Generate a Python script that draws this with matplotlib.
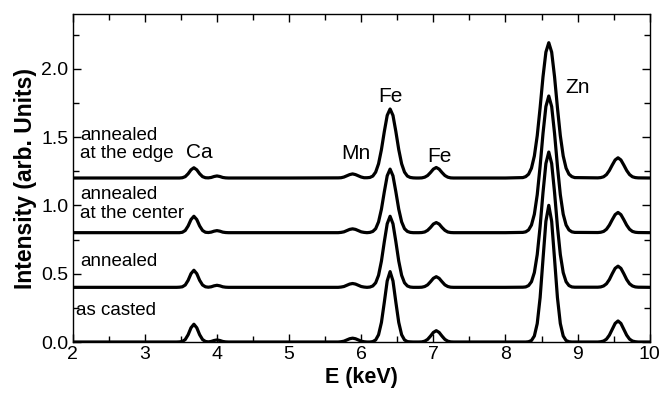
import matplotlib
matplotlib.use("Agg")
import matplotlib.pyplot as plt
import matplotlib.transforms as mtransforms
from matplotlib.ticker import MultipleLocator

plt.rcParams['font.family'] = ['Liberation Sans', 'DejaVu Sans']

# energy grid (keV), denser around the lines
energy = [2.0, 3.0,
          3.44, 3.48, 3.52, 3.56, 3.60, 3.64, 3.68, 3.72, 3.76, 3.80,
          3.84, 3.88, 3.92, 3.96, 4.00, 4.04, 4.08, 4.12, 4.16,
          5.0,
          5.68, 5.72, 5.76, 5.80, 5.84, 5.88, 5.92, 5.96, 6.00, 6.04,
          6.08, 6.12, 6.16, 6.20, 6.24, 6.28, 6.32, 6.36, 6.40, 6.44,
          6.48, 6.52, 6.56, 6.60, 6.64, 6.68, 6.72, 6.76, 6.80, 6.84,
          6.88, 6.92, 6.96, 7.00, 7.04, 7.08, 7.12, 7.16, 7.20, 7.24, 7.28,
          8.0,
          8.24, 8.28, 8.32, 8.36, 8.40, 8.44, 8.48, 8.52, 8.56, 8.60,
          8.64, 8.68, 8.72, 8.76, 8.80, 8.84, 8.88, 8.92, 8.96,
          9.28, 9.32, 9.36, 9.40, 9.44, 9.48, 9.52, 9.56, 9.60, 9.64,
          9.68, 9.72, 9.76, 9.80, 9.84,
          10.0]

# intensity above each spectrum's own baseline
edge = [0, 0,
        0, 0, .002, .010, .031, .060, .075, .060, .031, .010,
        .002, .001, .004, .011, .015, .011, .004, .001, 0,
        0,
        .001, .002, .007, .016, .025, .030, .025, .016, .007, .002,
        .002, .004, .014, .043, .104, .208, .340, .458, .505, .458,
        .340, .208, .104, .043, .014, .004, .001, 0, 0, .001,
        .006, .018, .040, .065, .077, .065, .040, .018, .006, .001, 0,
        0,
        .003, .010, .028, .072, .161, .310, .515, .741, .921, .990,
        .921, .741, .515, .310, .161, .072, .028, .010, .003,
        .001, .003, .009, .025, .055, .095, .132, .148, .132, .095,
        .055, .025, .009, .003, .001,
        0]

center = [0, 0,
          0, 0, .003, .016, .049, .096, .120, .096, .049, .016,
          .003, .001, .004, .011, .015, .011, .004, .001, 0,
          0,
          0, .002, .006, .015, .024, .028, .024, .015, .006, .002,
          0, .002, .009, .029, .079, .172, .299, .416, .465, .416,
          .299, .172, .079, .029, .009, .002, 0, 0, 0, .001,
          .005, .017, .038, .063, .074, .063, .038, .017, .005, .001, 0,
          0,
          .002, .006, .020, .056, .135, .278, .487, .726, .923, 1.000,
          .923, .726, .487, .278, .135, .056, .020, .006, .002,
          .001, .003, .009, .025, .055, .095, .132, .148, .132, .095,
          .055, .025, .009, .003, .001,
          0]

annealed = [0, 0,
            0, .001, .004, .017, .051, .100, .125, .100, .051, .017,
            .004, .001, .004, .011, .015, .011, .004, .001, 0,
            0,
            0, .002, .006, .015, .024, .028, .024, .015, .006, .002,
            0, .002, .010, .033, .088, .192, .334, .465, .520, .465,
            .334, .192, .088, .033, .010, .002, 0, 0, 0, .001,
            .006, .018, .041, .066, .078, .066, .041, .018, .006, .001, 0,
            0,
            .001, .003, .013, .041, .108, .240, .446, .694, .906, .990,
            .906, .694, .446, .240, .108, .041, .013, .003, .001,
            .001, .003, .010, .026, .057, .100, .139, .155, .139, .100,
            .057, .026, .010, .003, .001,
            0]

casted = [0, 0,
          0, .001, .004, .018, .053, .104, .130, .104, .053, .018,
          .004, .001, .004, .011, .015, .011, .004, .001, 0,
          0,
          0, .002, .006, .015, .024, .028, .024, .015, .006, .002,
          0, 0, .003, .015, .053, .143, .291, .447, .515, .447,
          .291, .143, .053, .015, .003, .001, 0, 0, 0, .001,
          .006, .019, .043, .070, .083, .070, .043, .019, .006, .001, 0,
          0,
          0, 0, .002, .011, .044, .135, .325, .607, .883, 1.000,
          .883, .607, .325, .135, .044, .011, .002, 0, 0,
          0, .002, .007, .021, .050, .093, .136, .154, .136, .093,
          .050, .021, .007, .002, 0,
          0]

spectra = [casted, annealed, center, edge]
offsets = [0.0, 0.4, 0.8, 1.2]
sample_labels = ["as casted", "annealed", "annealed\nat the center", "annealed\nat the edge"]
label_y = [0.234, 0.588, 1.012, 1.445]

peak_names = ["Ca", "Mn", "Fe", "Fe", "Zn"]
peak_x = [3.75, 5.93, 6.41, 7.09, 9.0]
peak_y = [1.39, 1.38, 1.80, 1.36, 1.86]

fig = plt.figure(figsize=(6.61, 3.98), dpi=100)
ax = fig.add_axes([0.110, 0.1407, 0.873, 0.8241])

for ys, off in zip(spectra, offsets):
    ax.plot(energy, [v + off for v in ys], color='black', lw=2.3,
            solid_joinstyle='round')

for lab, y in zip(sample_labels, label_y):
    ax.text(2.1 if lab != "as casted" else 2.04, y, lab, fontsize=13.5,
            va='center', ha='left', linespacing=1.15)

for name, x, y in zip(peak_names, peak_x, peak_y):
    ax.text(x, y, name, fontsize=15, ha='center', va='center')

ax.set_xlim(2, 10)
ax.set_ylim(0, 2.4)
ax.xaxis.set_major_locator(MultipleLocator(1))
ax.xaxis.set_minor_locator(MultipleLocator(0.5))
ax.yaxis.set_major_locator(MultipleLocator(0.5))
ax.yaxis.set_minor_locator(MultipleLocator(0.25))
ax.tick_params(which='both', direction='in', top=True, right=True, labelsize=14)
ax.tick_params(which='major', length=6, width=1, pad=3)
ax.tick_params(which='minor', length=4, width=1)
ax.yaxis.set_major_formatter(plt.FormatStrFormatter('%.1f'))
for s in ax.spines.values():
    s.set_linewidth(1.0)

ax.set_xlabel("E (keV)", fontsize=15.5, fontweight='bold', labelpad=3)
ax.set_ylabel("Intensity (arb. Units)", fontsize=16.5, fontweight='bold', labelpad=3)

# keep the "10" inside the figure
fig.canvas.draw()
last = ax.get_xticklabels()[-1]
last.set_transform(last.get_transform() +
                   mtransforms.ScaledTranslation(-4 / 72, 0, fig.dpi_scale_trans))

fig.savefig("out.png", dpi=100)
